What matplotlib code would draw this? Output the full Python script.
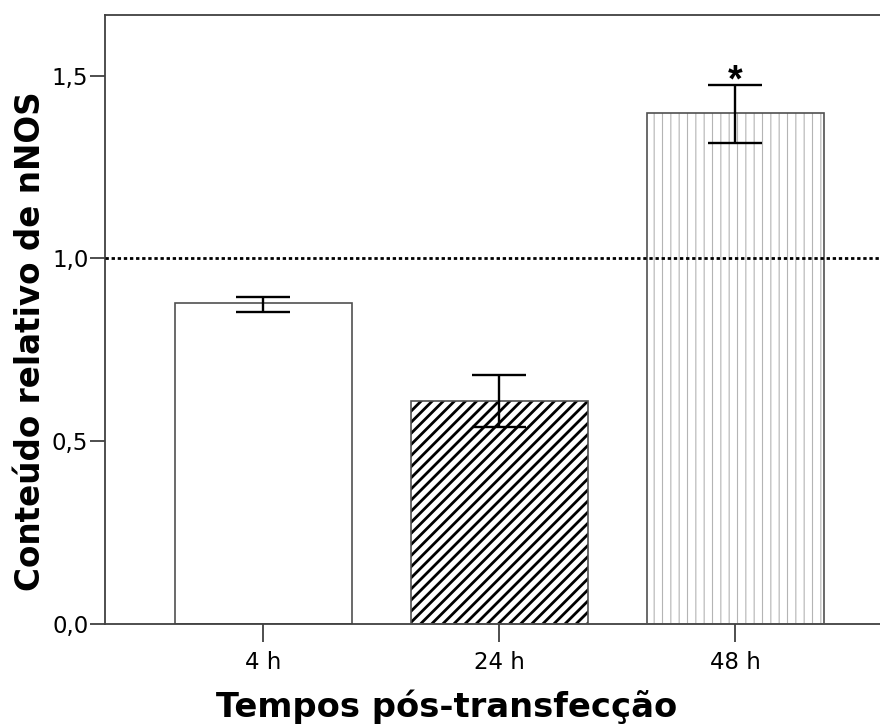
import matplotlib
matplotlib.use("Agg")
import matplotlib.pyplot as plt
import numpy as np

categories = ["4 h", "24 h", "48 h"]
values = [0.877, 0.610, 1.397]
err_low = [0.854, 0.539, 1.317]
err_high = [0.895, 0.680, 1.474]
yticks = [0.0, 0.5, 1.0, 1.5]
ytick_labels = ["0,0", "0,5", "1,0", "1,5"]
reference_value = 1.0

plt.rcParams['font.family'] = ['DejaVu Sans']

W, H = 880, 727
fig = plt.figure(figsize=(W / 100, H / 100), dpi=100)
ax = fig.add_axes([105 / W, 1 - 623.5 / H, 1 - 105 / W + 0.002, (623.5 - 14.7) / H])

x = np.arange(len(categories))
width = 0.75
edge = "#505050"

# bar 0: plain white
ax.bar(x[0], values[0], width, facecolor="white", edgecolor=edge, linewidth=1.2, zorder=2)

# bar 1: dense diagonal hatch
b1 = ax.bar(x[1], values[1], width, facecolor="white", edgecolor="black", hatch="///",
            linewidth=0, zorder=2)
for p in b1:
    if hasattr(p, "set_hatch_linewidth"):
        p.set_hatch_linewidth(2.0)
ax.bar(x[1], values[1], width, facecolor="none", edgecolor=edge, linewidth=1.2, zorder=3)

# bar 2: light vertical hatch
b2 = ax.bar(x[2], values[2], width, facecolor="white", edgecolor="#b4b4b4", hatch="||",
            linewidth=0, zorder=2)
for p in b2:
    if hasattr(p, "set_hatch_linewidth"):
        p.set_hatch_linewidth(0.8)
ax.bar(x[2], values[2], width, facecolor="none", edgecolor=edge, linewidth=1.2, zorder=3)

# error bars
vals = np.array(values)
yerr = np.vstack([vals - np.array(err_low), np.array(err_high) - vals])
ax.errorbar(x, vals, yerr=yerr, fmt="none", ecolor="black", elinewidth=1.7,
            capsize=19.5, capthick=1.7, zorder=5)

# reference line
ax.axhline(reference_value, color="black", linestyle=(0, (1.2, 1.0)), linewidth=2.0, zorder=4)

# asterisk
ax.annotate("*", xy=(x[2], err_high[2]), xytext=(0, 3), textcoords="offset points",
            ha="center", va="center", fontsize=27, fontweight="bold",
            family=["Liberation Sans", "DejaVu Sans"])

ax.set_xlim(-0.67, 2.62)
ax.set_ylim(0, 1.667)
ax.set_xticks(x)
ax.set_xticklabels(categories, fontsize=16.5)
ax.set_yticks(yticks)
ax.set_yticklabels(ytick_labels, fontsize=16.5)
ax.tick_params(axis="y", length=11, width=1.3, color="#404040", pad=1)
ax.tick_params(axis="x", length=13, width=1.3, color="#404040", pad=7)

for s in ["left", "bottom", "top"]:
    ax.spines[s].set_color("#404040")
    ax.spines[s].set_linewidth(1.3)
ax.spines["right"].set_visible(False)

ax.set_xlabel("Tempos pós-transfecção", fontsize=24.3, fontweight="bold")
ax.xaxis.set_label_coords((446 - 105) / 775, (623.5 - 689) / 608.8)
ax.set_ylabel("Conteúdo relativo de nNOS", fontsize=23.5, fontweight="bold")
ax.yaxis.set_label_coords((47 - 105) / 775, (623.5 - 341) / 608.8)

fig.savefig("out.png", dpi=100)
